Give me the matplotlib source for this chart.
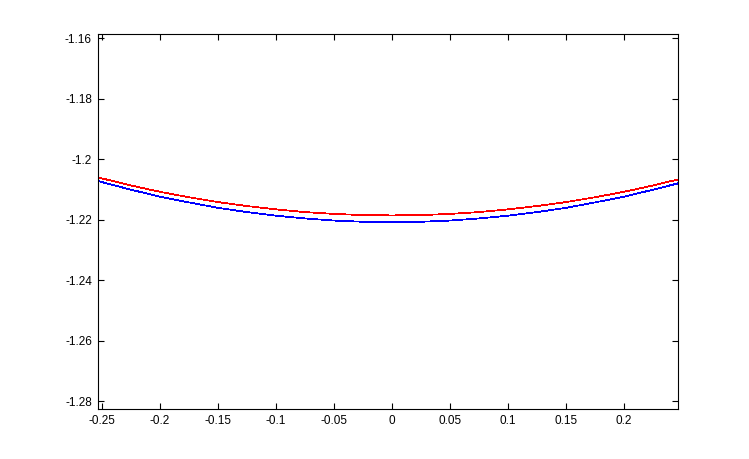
import matplotlib
matplotlib.use("Agg")
import matplotlib.pyplot as plt
from matplotlib.ticker import FuncFormatter

x = [-0.2539, -0.225, -0.2, -0.175, -0.15, -0.125, -0.1, -0.075, -0.05, -0.025, 0.0,
     0.025, 0.05, 0.075, 0.1, 0.125, 0.15, 0.175, 0.2, 0.225, 0.2466]
red = [-1.2060, -1.2087, -1.2108, -1.2126, -1.2142, -1.2155, -1.2166, -1.2175, -1.2181, -1.2185, -1.2186,
       -1.2185, -1.2181, -1.2175, -1.2166, -1.2155, -1.2142, -1.2126, -1.2108, -1.2087, -1.2067]
blue = [-1.2072, -1.2101, -1.2124, -1.2143, -1.2161, -1.2175, -1.2187, -1.2196, -1.2203, -1.2207, -1.2208,
        -1.2207, -1.2203, -1.2196, -1.2187, -1.2175, -1.2161, -1.2143, -1.2124, -1.2101, -1.2080]
xticks = [-0.25, -0.2, -0.15, -0.1, -0.05, 0, 0.05, 0.1, 0.15, 0.2]
yticks = [-1.28, -1.26, -1.24, -1.22, -1.2, -1.18, -1.16]

plt.rcParams['font.family'] = ['Liberation Sans', 'DejaVu Sans']
fig = plt.figure(figsize=(7.49, 4.59), dpi=100)
ax = fig.add_axes([0.1302, 0.109, 0.7750, 0.817])
ax.plot(x, red, color='#ff0000', lw=0.55, antialiased=False)
ax.plot(x, blue, color='#0000ff', lw=0.55, antialiased=False)
ax.set_xlim(-0.2539, 0.2466)
ax.set_ylim(-1.2826, -1.1586)
ax.set_xticks(xticks)
ax.set_yticks(yticks)
fmt = FuncFormatter(lambda v, p: ('%g' % round(v, 4)))
ax.xaxis.set_major_formatter(fmt)
ax.yaxis.set_major_formatter(fmt)
ax.tick_params(direction='in', length=4, width=0.8, top=True, right=True,
               labelsize=8.5, pad=4, colors='black')
for s in ax.spines.values():
    s.set_linewidth(0.8)
fig.savefig('out.png', dpi=100)
